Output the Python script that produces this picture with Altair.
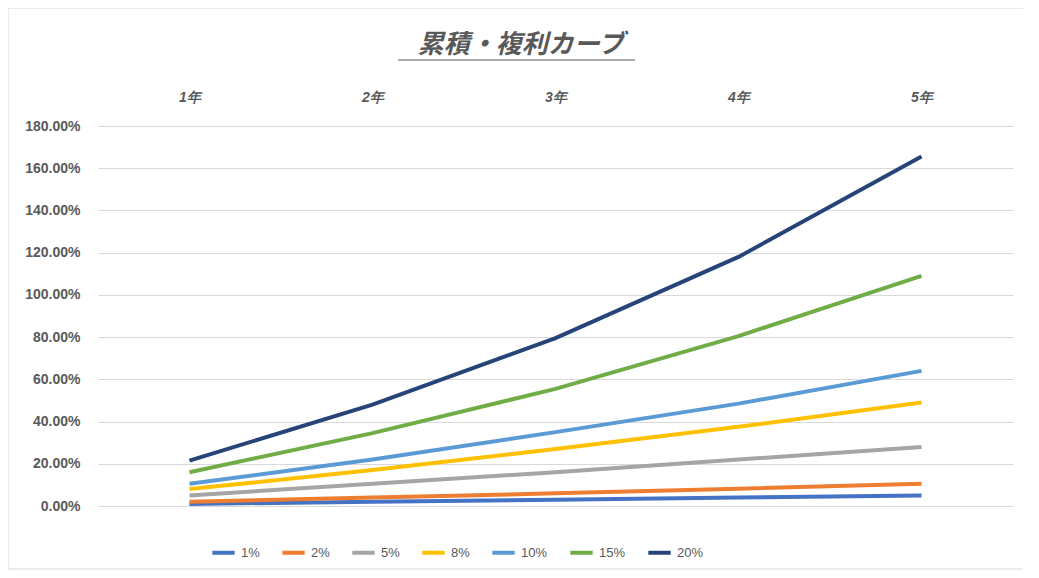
import altair as alt
import pandas as pd

years = ["1年", "2年", "3年", "4年", "5年"]
series = ["1%", "2%", "5%", "8%", "10%", "15%", "20%"]
values = {
    "1%": [1.0, 2.0, 3.0, 4.0, 5.0],
    "2%": [2.0, 4.0, 6.0, 8.2, 10.5],
    "5%": [5.0, 10.5, 16.0, 22.0, 28.0],
    "8%": [8.0, 17.0, 27.0, 37.5, 49.0],
    "10%": [10.5, 22.0, 35.0, 48.5, 64.0],
    "15%": [16.0, 34.5, 55.5, 80.5, 109.0],
    "20%": [21.5, 48.0, 79.5, 118.0, 165.5],
}
colors = ["#4472C4", "#ED7D31", "#A5A5A5", "#FFC000", "#5B9BD5", "#70AD47", "#264478"]
title_text = "累積・複利カーブ"

rows = []
for s in series:
    for y, v in zip(years, values[s]):
        rows.append({"year": y, "series": s, "value": v / 100})
df = pd.DataFrame(rows)

W, H = 915, 380
lines = alt.Chart(df).mark_line(strokeWidth=4, clip=False).encode(
    x=alt.X("year:N", sort=years, scale=alt.Scale(type="point", padding=0.5),
            axis=alt.Axis(orient="top", title=None, domain=False, ticks=False, grid=False,
                          labelAngle=0, labelFontStyle="italic", labelFontWeight="bold",
                          labelFontSize=14, labelColor="#595959", labelPadding=22,
                          labelFont="Liberation Sans")),
    y=alt.Y("value:Q", scale=alt.Scale(domain=[0, 1.8]),
            axis=alt.Axis(title=None, format=".2%", values=[i / 5 for i in range(10)],
                          domain=False, ticks=False, gridColor="#d9d9d9",
                          labelFontWeight="bold", labelFontSize=14, labelColor="#595959",
                          labelPadding=18, labelFont="Liberation Sans")),
    color=alt.Color("series:N", sort=series, scale=alt.Scale(domain=series, range=colors),
                    legend=alt.Legend(orient="none", legendX=112, legendY=33 + H, direction="horizontal",
                                      title=None, symbolType="stroke", symbolStrokeWidth=4,
                                      symbolSize=500, labelFontSize=13, labelColor="#595959",
                                      columnPadding=14, labelFont="Liberation Sans")),
)

one = pd.DataFrame({"t": [title_text]})
frame = alt.Chart(one).mark_rect(fill=None, stroke="#d9d9d9", clip=False).encode(
    x=alt.value(-90), x2=alt.value(W + 22), y=alt.value(-118), y2=alt.value(H + 63))
title = alt.Chart(one).mark_text(fontSize=26, fontStyle="italic", fontWeight="bold", color="#595959",
                                 font="Noto Sans CJK JP", baseline="bottom", clip=False).encode(
    text="t:N", x=alt.value(423), y=alt.value(-68))
underline = alt.Chart(one).mark_rule(color="#595959", strokeWidth=1.2, clip=False).encode(
    x=alt.value(300), x2=alt.value(537), y=alt.value(-66))

chart = alt.layer(frame, lines, title, underline).properties(
    width=W, height=H,
    autosize=alt.AutoSizeParams(type="none"),
    padding={"left": 90, "top": 118, "right": 10, "bottom": 70},
).configure_view(stroke=None)

chart.save("out.html", embed_options={"renderer": "svg", "actions": False})
